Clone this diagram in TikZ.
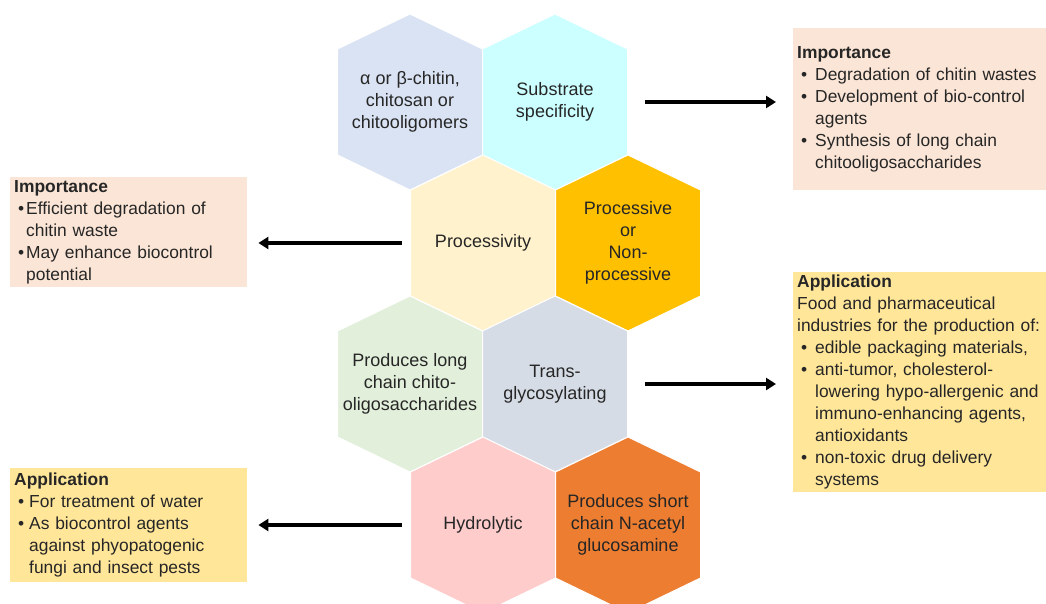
\documentclass[tikz,border=0pt]{standalone}
\usepackage{fontspec}
\setmainfont{Liberation Sans}
\usetikzlibrary{arrows.meta}
\definecolor{hexsub}{HTML}{DAE3F3}
\definecolor{hexspec}{HTML}{CCFFFF}
\definecolor{hexproc}{HTML}{FFF2CC}
\definecolor{hexnon}{HTML}{FFC000}
\definecolor{hexlong}{HTML}{E2EFDA}
\definecolor{hextrans}{HTML}{D6DCE5}
\definecolor{hexhyd}{HTML}{FFCCCC}
\definecolor{hexshort}{HTML}{ED7D31}
\definecolor{impfill}{HTML}{FBE5D6}
\definecolor{appfill}{HTML}{FFE699}
\definecolor{ink}{HTML}{262626}
\newcommand{\itm}[1][18pt]{\makebox[#1][l]{\hspace{4pt}\textbullet}}
\newcommand{\cnt}[1][18pt]{\hspace*{#1}}
\begin{document}
\begin{tikzpicture}[x=1pt,y=-1pt,line join=round,font=\fontsize{18}{22}\selectfont,text=ink]
			\tikzset{hexlabel/.style={minimum width=145pt,inner sep=0pt,align=center},
				infobox/.style={anchor=north west,inner xsep=4pt,inner ysep=0pt,align=left,font=\fontsize{17.4}{22}\selectfont},
				arr/.style={line width=3.2pt,-{Triangle[length=10pt,width=12pt]}}}
			\useasboundingbox (0,0) rectangle (1046,604);
			\clip (0,0) rectangle (1046,604);
			\fill[white] (0,0) rectangle (1046,604);
			\foreach \cx/\cy/\col/\nm/\txt in {
				410/102/hexsub/subs/{α or β-chitin,\\chitosan or\\chitooligomers},
				555/102/hexspec/spec/{Substrate\\specificity},
				483/243/hexproc/proc/{Processivity},
				628/243/hexnon/pnon/{Processive\\or\\Non-\\processive},
				410/384/hexlong/long/{Produces long\\chain chito-\\oligosaccharides},
				555/384/hextrans/trans/{Trans-\\glycosylating},
				483/525/hexhyd/hyd/{Hydrolytic},
				628/525/hexshort/short/{Produces short\\chain N-acetyl\\glucosamine}}
			{
				\filldraw[fill=\col,draw=white,line width=1pt] (\cx,\cy) ++(0,-88) -- ++(72.5,35) -- ++(0,106) -- ++(-72.5,35) -- ++(-72.5,-35) -- ++(0,-106) -- cycle;
				\node[hexlabel] (\nm) at (\cx,\cy) {\txt};
			}
			\node[infobox,fill=impfill,minimum width=260pt,minimum height=162pt,text width=252pt] (impR) at (793,28)
				{\textbf{Importance}\\
				\itm Degradation of chitin wastes\\
				\itm Development of bio-control\\
				\cnt agents\\
				\itm Synthesis of long chain\\
				\cnt chitooligosaccharides};
			\node[infobox,fill=appfill,minimum width=260pt,minimum height=220pt,text width=252pt] (appR) at (793,272)
				{\textbf{Application}\\
				Food and pharmaceutical\\
				industries for the production of:\\
				\itm edible packaging materials,\\
				\itm anti-tumor, cholesterol-\\
				\cnt lowering hypo-allergenic and\\
				\cnt immuno-enhancing agents,\\
				\cnt antioxidants\\
				\itm non-toxic drug delivery\\
				\cnt systems};
			\node[infobox,fill=impfill,minimum width=237pt,minimum height=110pt,text width=229pt] (impL) at (10,177)
				{\textbf{Importance}\\
				\itm[12pt]Efficient degradation of\\
				\cnt[12pt]chitin waste\\
				\itm[12pt]May enhance biocontrol\\
				\cnt[12pt]potential};
			\node[infobox,fill=appfill,minimum width=237pt,minimum height=114pt,text width=229pt] (appL) at (10,468)
				{\textbf{Application}\\
				\itm[15pt]For treatment of water\\
				\itm[15pt]As biocontrol agents\\
				\cnt[15pt]against phyopatogenic\\
				\cnt[15pt]fungi and insect pests};
			\draw[arr,shorten >=17pt] ([xshift=17pt]spec.east) -- (impR.west |- spec.center);
			\draw[arr,shorten >=17pt] ([xshift=17pt]trans.east) -- (appR.west |- trans.center);
			\draw[arr,shorten >=11pt] ([xshift=-8.5pt]proc.west) -- (impL.east |- proc.center);
			\draw[arr,shorten >=11pt] ([xshift=-8.5pt]hyd.west) -- (appL.east |- hyd.center);
		\end{tikzpicture}
\end{document}
